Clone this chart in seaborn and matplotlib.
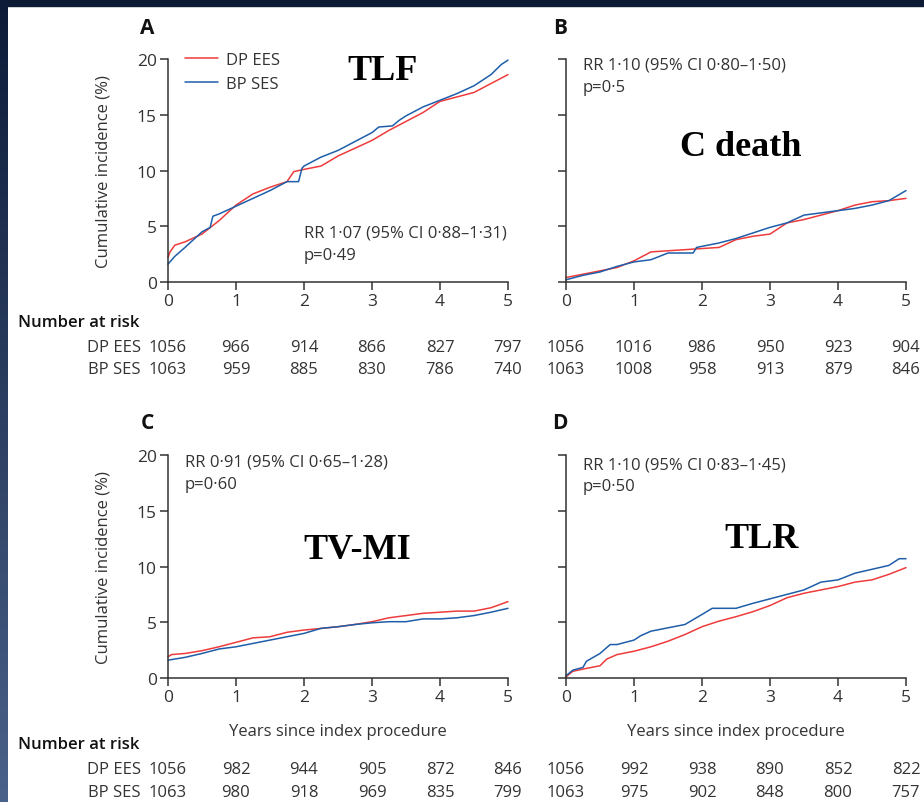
import numpy as np
import pandas as pd
import matplotlib
matplotlib.use("Agg")
import matplotlib.pyplot as plt
import seaborn as sns
from matplotlib.transforms import blended_transform_factory
from matplotlib.lines import Line2D
from matplotlib.patches import Rectangle
from matplotlib.colors import LinearSegmentedColormap

# ---------------- data ----------------
groups = ["DP EES", "BP SES"]
years = [0, 1, 2, 3, 4, 5]
yticks = [0, 5, 10, 15, 20]

# Panel A - TLF
tlf_dp_t = [0, 0.03, 0.1, 0.25, 0.5, 0.75, 1.0, 1.25, 1.5, 1.75, 1.85, 2.0, 2.25, 2.5, 2.75, 3.0, 3.25, 3.5, 3.75, 4.0, 4.25, 4.5, 4.75, 5.0]
tlf_dp_y = [2.2, 2.7, 3.3, 3.6, 4.3, 5.5, 6.9, 7.9, 8.5, 9.0, 9.9, 10.1, 10.4, 11.3, 12.0, 12.7, 13.6, 14.4, 15.2, 16.2, 16.6, 17.0, 17.8, 18.6]
tlf_bp_t = [0, 0.1, 0.25, 0.5, 0.62, 0.66, 0.75, 1.0, 1.25, 1.5, 1.75, 1.92, 1.97, 2.0, 2.25, 2.5, 2.75, 3.0, 3.1, 3.3, 3.4, 3.5, 3.75, 4.0, 4.25, 4.5, 4.75, 4.9, 5.0]
tlf_bp_y = [1.6, 2.3, 3.1, 4.5, 4.9, 5.9, 6.1, 6.8, 7.5, 8.2, 9.0, 9.0, 10.2, 10.4, 11.2, 11.8, 12.6, 13.4, 13.9, 14.0, 14.5, 14.9, 15.7, 16.3, 16.9, 17.6, 18.6, 19.5, 19.9]

# Panel B - cardiac death
cd_dp_t = [0, 0.25, 0.5, 0.75, 1.0, 1.25, 1.5, 1.75, 2.0, 2.25, 2.5, 2.75, 3.0, 3.25, 3.5, 3.75, 4.0, 4.25, 4.5, 4.75, 5.0]
cd_dp_y = [0.4, 0.7, 1.0, 1.3, 1.9, 2.7, 2.8, 2.9, 3.0, 3.1, 3.8, 4.1, 4.3, 5.3, 5.6, 6.0, 6.4, 6.9, 7.2, 7.3, 7.5]
cd_bp_t = [0, 0.25, 0.5, 0.75, 1.0, 1.25, 1.5, 1.87, 1.92, 2.25, 2.5, 2.75, 3.0, 3.25, 3.5, 3.75, 4.0, 4.25, 4.5, 4.75, 5.0]
cd_bp_y = [0.2, 0.6, 0.9, 1.4, 1.8, 2.0, 2.6, 2.6, 3.1, 3.5, 3.9, 4.4, 4.9, 5.3, 6.0, 6.2, 6.4, 6.6, 6.9, 7.3, 8.2]

# Panel C - TV-MI
mi_dp_t = [0, 0.05, 0.25, 0.5, 0.75, 1.0, 1.25, 1.5, 1.75, 2.0, 2.25, 2.5, 2.75, 3.0, 3.25, 3.5, 3.75, 4.0, 4.25, 4.5, 4.75, 5.0]
mi_dp_y = [1.9, 2.1, 2.2, 2.45, 2.8, 3.2, 3.6, 3.7, 4.1, 4.3, 4.45, 4.6, 4.8, 5.05, 5.4, 5.6, 5.8, 5.9, 6.0, 6.0, 6.3, 6.85]
mi_bp_t = [0, 0.25, 0.5, 0.75, 1.0, 1.25, 1.5, 1.75, 2.0, 2.25, 2.5, 2.75, 3.0, 3.25, 3.5, 3.75, 4.0, 4.25, 4.5, 4.75, 5.0]
mi_bp_y = [1.6, 1.85, 2.2, 2.6, 2.8, 3.1, 3.4, 3.7, 4.0, 4.45, 4.6, 4.8, 4.95, 5.05, 5.05, 5.3, 5.3, 5.4, 5.6, 5.9, 6.25]

# Panel D - TLR
tlr_dp_t = [0, 0.1, 0.25, 0.5, 0.6, 0.75, 1.0, 1.25, 1.5, 1.75, 2.0, 2.25, 2.5, 2.75, 3.0, 3.25, 3.5, 3.75, 4.0, 4.25, 4.5, 4.75, 5.0]
tlr_dp_y = [0.1, 0.6, 0.8, 1.1, 1.7, 2.1, 2.4, 2.8, 3.3, 3.9, 4.6, 5.1, 5.5, 5.95, 6.5, 7.2, 7.6, 7.9, 8.2, 8.6, 8.8, 9.3, 9.9]
tlr_bp_t = [0, 0.1, 0.25, 0.3, 0.5, 0.65, 0.75, 1.0, 1.1, 1.25, 1.5, 1.75, 2.0, 2.15, 2.5, 2.75, 3.0, 3.25, 3.5, 3.75, 4.0, 4.25, 4.5, 4.75, 4.9, 5.0]
tlr_bp_y = [0.2, 0.7, 0.95, 1.5, 2.2, 3.0, 3.0, 3.4, 3.8, 4.2, 4.5, 4.8, 5.7, 6.25, 6.25, 6.7, 7.1, 7.5, 7.9, 8.6, 8.8, 9.4, 9.75, 10.1, 10.7, 10.7]

# Number at risk
risk_A_dp = [1056, 966, 914, 866, 827, 797]
risk_A_bp = [1063, 959, 885, 830, 786, 740]
risk_B_dp = [1056, 1016, 986, 950, 923, 904]
risk_B_bp = [1063, 1008, 958, 913, 879, 846]
risk_C_dp = [1056, 982, 944, 905, 872, 846]
risk_C_bp = [1063, 980, 918, 969, 835, 799]
risk_D_dp = [1056, 992, 938, 890, 852, 822]
risk_D_bp = [1063, 975, 902, 848, 800, 757]

panel_letters = ["A", "B", "C", "D"]
panel_titles = ["TLF", "C death", "TV-MI", "TLR"]
rr_texts = ["RR 1·07 (95% CI 0·88–1·31)\np=0·49",
            "RR 1·10 (95% CI 0·80–1·50)\np=0·5",
            "RR 0·91 (95% CI 0·65–1·28)\np=0·60",
            "RR 1·10 (95% CI 0·83–1·45)\np=0·50"]

# ---------------- style ----------------
sns.set_theme(style="white")
plt.rcParams["font.family"] = ["Open Sans", "DejaVu Sans"]
TXT = "#333333"
RED = "#ee3b3b"
BLUE = "#1f5ea8"
palette = {"DP EES": RED, "BP SES": BLUE}
FS = 12

W, H = 924, 803
fig = plt.figure(figsize=(W / 100, H / 100), dpi=100)
fig.patch.set_facecolor("white")

def fx(p):
    return p / W

def fy(p):
    return 1 - p / H

# background frame (slide)
fig.patches.append(Rectangle((0, fy(7)), 1, 7 / H, transform=fig.transFigure,
                             color="#0c1a36", zorder=-5))
axbg = fig.add_axes([0, 0, fx(8), 1])
grad = np.linspace(0, 1, 256).reshape(-1, 1)
axbg.imshow(grad, aspect="auto",
            cmap=LinearSegmentedColormap.from_list("g", ["#0d1b38", "#4a6189"]))
axbg.set_axis_off()

# axes positions (pixels)
xl = {"L": 168, "R": 566}
wpx = 340
top = {"T": 60, "B": 456}
hpx = 223

layout = [("L", "T"), ("R", "T"), ("L", "B"), ("R", "B")]
series = [
    (tlf_dp_t, tlf_dp_y, tlf_bp_t, tlf_bp_y),
    (cd_dp_t, cd_dp_y, cd_bp_t, cd_bp_y),
    (mi_dp_t, mi_dp_y, mi_bp_t, mi_bp_y),
    (tlr_dp_t, tlr_dp_y, tlr_bp_t, tlr_bp_y),
]
risks = [(risk_A_dp, risk_A_bp), (risk_B_dp, risk_B_bp),
         (risk_C_dp, risk_C_bp), (risk_D_dp, risk_D_bp)]
title_pos = [(383, 72), (741, 147), (357, 551), (762, 540)]
rr_pos = [(304, 226), (583, 58), (185, 455), (583, 457)]
# rows of the at-risk table (pixel y): heading, DP EES, BP SES
table_rows = {"T": (323, 348, 370), "B": (745, 770, 793)}
letter_y = {"T": 29, "B": 424}

for i, (col, row) in enumerate(layout):
    left = xl[col]
    t0 = top[row]
    ax = fig.add_axes([fx(left), fy(t0 + hpx), wpx / W, hpx / H])
    dpt, dpy, bpt, bpy = series[i]
    df = pd.DataFrame({
        "time": list(dpt) + list(bpt),
        "inc": list(dpy) + list(bpy),
        "stent": [groups[0]] * len(dpt) + [groups[1]] * len(bpt),
    })
    sns.lineplot(data=df, x="time", y="inc", hue="stent", palette=palette,
                 estimator=None, sort=False, ax=ax, legend=False, lw=1.1)
    for ln in ax.lines:
        ln.set_clip_on(False)
    ax.set_xlim(0, 5)
    ax.set_ylim(0, 20)
    ax.set_xticks(years)
    ax.set_yticks(yticks)
    for s in ["top", "right"]:
        ax.spines[s].set_visible(False)
    for s in ["left", "bottom"]:
        ax.spines[s].set_color(TXT)
        ax.spines[s].set_linewidth(1.1)
    ax.tick_params(axis="both", direction="out", length=5.5, width=1.1,
                   color=TXT, labelcolor=TXT, labelsize=12.5, pad=2.5,
                   left=True, bottom=True)
    ax.set_xticklabels([str(y) for y in years])
    if col == "L":
        ax.set_yticklabels([str(v) for v in yticks])
        ax.set_ylabel("Cumulative incidence (%)", fontsize=FS, color=TXT)
        ax.yaxis.set_label_coords(-0.165, 0.5)
    else:
        ax.set_yticklabels([])
        ax.set_ylabel("")
    if row == "B":
        ax.set_xlabel("Years since index procedure", fontsize=FS, color=TXT)
        ax.xaxis.set_label_coords(0.5, -0.2)
    else:
        ax.set_xlabel("")

    # panel letter
    fig.text(fx(left - 21 if col == "L" else left - 6), fy(letter_y[row]),
             panel_letters[i], fontsize=15, fontweight="bold", color="#111111",
             ha="center", va="center")

    # big title
    fig.text(fx(title_pos[i][0]), fy(title_pos[i][1]), panel_titles[i],
             family=["Liberation Serif", "DejaVu Serif"], fontweight="bold",
             fontsize=26, color="black", ha="center", va="center")
    # RR text
    fig.text(fx(rr_pos[i][0]), fy(rr_pos[i][1]), rr_texts[i], fontsize=FS,
             color=TXT, ha="left", va="top", linespacing=1.5)

    # number at risk
    tr = blended_transform_factory(ax.transData, fig.transFigure)
    head_y, dp_y, bp_y = table_rows[row]
    r_dp, r_bp = risks[i]
    for yv, n1, n2 in zip(years, r_dp, r_bp):
        ax.text(yv, fy(dp_y), str(n1), transform=tr, fontsize=FS,
                color=TXT, ha="center", va="center", clip_on=False)
        ax.text(yv, fy(bp_y), str(n2), transform=tr, fontsize=FS,
                color=TXT, ha="center", va="center", clip_on=False)
    if col == "L":
        fig.text(fx(18), fy(head_y), "Number at risk", fontsize=12,
                 fontweight="semibold", color="#111111", ha="left", va="center")
        fig.text(fx(141), fy(dp_y), groups[0], fontsize=FS, color=TXT,
                 ha="right", va="center")
        fig.text(fx(141), fy(bp_y), groups[1], fontsize=FS, color=TXT,
                 ha="right", va="center")

    if i == 0:
        handles = [Line2D([], [], color=RED, lw=1.1), Line2D([], [], color=BLUE, lw=1.1)]
        ax.legend(handles, groups, loc="upper left", bbox_to_anchor=(0.03, 1.06),
                  frameon=False, fontsize=FS, handlelength=2.0, handletextpad=0.45,
                  labelspacing=0.45, borderaxespad=0, labelcolor=TXT)

fig.savefig("out.png", dpi=100)
